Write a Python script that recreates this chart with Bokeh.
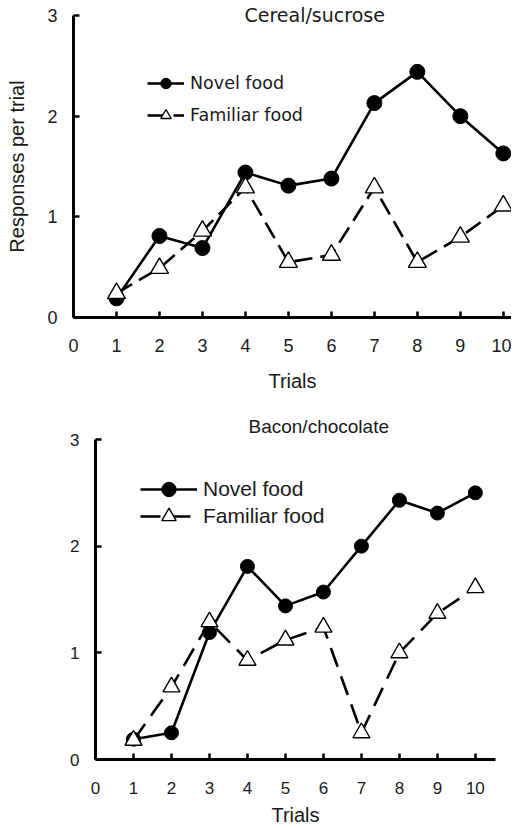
from bokeh.plotting import figure
from bokeh.models import FixedTicker, Range1d, Legend, LegendItem
from bokeh.embed import file_html
from bokeh.resources import INLINE

# ---- data ----
trials = [1, 2, 3, 4, 5, 6, 7, 8, 9, 10]
cereal_novel = [0.19, 0.81, 0.69, 1.44, 1.31, 1.38, 2.13, 2.44, 2.00, 1.63]
cereal_familiar = [0.24, 0.49, 0.86, 1.29, 0.55, 0.62, 1.29, 0.55, 0.80, 1.11]
bacon_novel = [0.19, 0.25, 1.19, 1.81, 1.44, 1.57, 2.00, 2.43, 2.31, 2.50]
bacon_familiar = [0.18, 0.68, 1.29, 0.93, 1.12, 1.24, 0.25, 1.00, 1.37, 1.61]
x_ticks = [0, 1, 2, 3, 4, 5, 6, 7, 8, 9, 10]
y_ticks = [0, 1, 2, 3]
series_labels = ["Novel food", "Familiar food"]
titles = ["Cereal/sucrose", "Bacon/chocolate"]
x_label = "Trials"
y_label = "Responses per trial"

SANS = "Liberation Sans"
VERD = "DejaVu Sans"
INK = "#1a1a1a"


def style_axes(p, tick_size, x_standoff, y_standoff, x_lab_standoff, y_lab_standoff):
    for ax in (p.xaxis[0], p.yaxis[0]):
        ax.axis_line_width = 3
        ax.axis_line_color = "black"
        ax.major_tick_in = 6
        ax.major_tick_out = 0
        ax.major_tick_line_width = 2.5
        ax.minor_tick_line_color = None
        ax.major_label_text_font = SANS
        ax.major_label_text_font_size = tick_size
        ax.major_label_text_color = INK
        ax.axis_label_text_font = SANS
        ax.axis_label_text_font_style = "normal"
        ax.axis_label_text_font_size = "20px"
        ax.axis_label_text_color = INK
    p.xaxis[0].ticker = FixedTicker(ticks=x_ticks)
    p.yaxis[0].ticker = FixedTicker(ticks=y_ticks)
    p.xaxis[0].major_label_standoff = x_standoff
    p.yaxis[0].major_label_standoff = y_standoff
    p.xaxis[0].axis_label_standoff = x_lab_standoff
    p.yaxis[0].axis_label_standoff = y_lab_standoff
    p.xgrid.visible = False
    p.ygrid.visible = False
    p.outline_line_color = None


def draw_series(p, novel, familiar, msize, dash, leg_font, leg_size, glyph_h,
                leg_x, leg_y1, leg_y2, glyph_w):
    ln = p.line(trials, novel, line_color="black", line_width=2.6)
    mk = p.scatter(trials, novel, marker="circle", size=msize,
                   fill_color="black", line_color="black")
    lf = p.line(trials, familiar, line_color="black", line_width=2.6,
                line_dash=dash)
    tf = p.scatter(trials, familiar, marker="triangle", size=msize + 3,
                   fill_color="white", line_color="black", line_width=1.4)
    for item, ly in ((LegendItem(label=series_labels[0], renderers=[ln, mk]), leg_y1),
                     (LegendItem(label=series_labels[1], renderers=[lf, tf]), leg_y2)):
        lg = Legend(items=[item], location=(leg_x, ly), padding=0, margin=0,
                    spacing=0, border_line_color=None, background_fill_alpha=0,
                    glyph_height=glyph_h, glyph_width=glyph_w,
                    label_height=glyph_h, label_standoff=6,
                    label_text_font=leg_font, label_text_font_size=leg_size,
                    label_text_color=INK)
        p.add_layout(lg, "center")


def set_title(p, text, font, size, offset, standoff):
    p.title.text = text
    p.title.align = "left"
    p.title.offset = offset
    p.title.standoff = standoff
    p.title.text_font = font
    p.title.text_font_size = size
    p.title.text_font_style = "normal"
    p.title.text_color = INK


# ---- top panel ----
p1 = figure(width=511, height=395, x_range=Range1d(0, 10.19), y_range=Range1d(0, 3),
            output_backend="svg", toolbar_location=None,
            min_border_left=73, min_border_right=0, min_border_top=15,
            min_border_bottom=78, x_axis_label=x_label, y_axis_label=y_label)
style_axes(p1, "18px", 21, 16, 15, 16)
draw_series(p1, cereal_novel, cereal_familiar, 15, "18 8", VERD, "17.5px", 26,
            74, 221, 189, 37)
set_title(p1, titles[0], VERD, "19px", 171, -20)

# ---- bottom panel ----
p2 = figure(width=511, height=433, x_range=Range1d(0, 10.53), y_range=Range1d(0, 3),
            output_backend="svg", toolbar_location=None,
            min_border_left=95, min_border_right=16, min_border_top=44,
            min_border_bottom=66, x_axis_label=x_label)
style_axes(p2, "17px", 22, 16, 7, 6)
draw_series(p2, bacon_novel, bacon_familiar, 14, "20 10", SANS, "21px", 36,
            45, 252, 225, 57)
set_title(p2, titles[1], SANS, "19px", 153, 6)

open("out.html", "w").write(file_html([p1, p2], INLINE))
